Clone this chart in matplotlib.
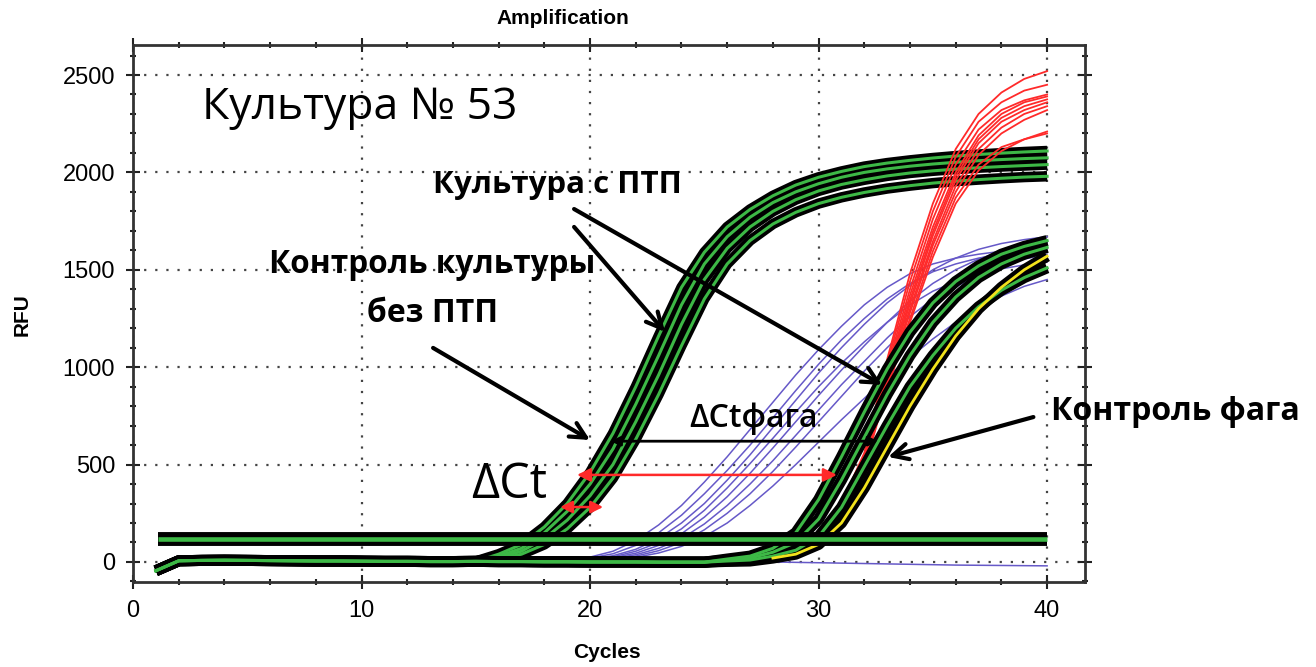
import matplotlib
matplotlib.use("Agg")
import matplotlib.pyplot as plt
from matplotlib.ticker import MultipleLocator

plt.rcParams['font.family'] = ['Liberation Sans', 'DejaVu Sans']
cyr = ['Open Sans', 'DejaVu Sans']

# 데이터 (RFU 값, 1~40 사이클)
cycles = list(range(1, 41))
baseline = [-45, 6, 8, 9, 8, 7, 6, 5, 5, 4, 3, 3, 2, 2, 3, 2, 2, 1, 1, 0,
            0, 0, -1, -1, -1, -2, -2, -2, -3, -3, -3, -3, -4, -4, -4, -4, -4, -5, -5, -5]

# 왼쪽 번들 (ПТП 배양) : 16 사이클부터
left_rise = [
    [40, 90, 180, 300, 460, 660, 900, 1160, 1410, 1590, 1720, 1810, 1880, 1935, 1975, 2005, 2030, 2048, 2062, 2074, 2084, 2092, 2099, 2105, 2110],
    [30, 70, 150, 260, 400, 580, 810, 1060, 1320, 1530, 1670, 1770, 1845, 1900, 1942, 1975, 2000, 2018, 2032, 2043, 2052, 2060, 2066, 2071, 2075],
    [22, 55, 120, 215, 340, 500, 720, 960, 1220, 1450, 1610, 1720, 1800, 1860, 1905, 1938, 1962, 1982, 1997, 2008, 2017, 2024, 2030, 2035, 2040],
    [15, 40, 90, 170, 280, 430, 630, 860, 1110, 1350, 1530, 1650, 1735, 1795, 1840, 1872, 1897, 1917, 1932, 1945, 1955, 1963, 1970, 1976, 1980],
]
# 오른쪽 번들 (фаг 대조) : 26 사이클부터
right_rise = [
    [15, 30, 70, 150, 320, 540, 770, 990, 1180, 1330, 1440, 1520, 1580, 1620, 1650],
    [10, 20, 50, 100, 220, 420, 640, 860, 1060, 1230, 1360, 1460, 1530, 1580, 1615],
    [5, 10, 30, 60, 130, 280, 490, 700, 900, 1060, 1200, 1310, 1395, 1460, 1510],
]
yellow_rise = [3, 5, 20, 40, 90, 200, 380, 590, 800, 990, 1160, 1300, 1410, 1500, 1570]

# 보라색 곡선 : 19 사이클부터
purple_rise = [
    [10, 25, 55, 110, 190, 290, 410, 540, 680, 820, 960, 1090, 1210, 1320, 1410, 1480, 1530, 1560, 1580, 1595, 1605, 1612],
    [8, 20, 42, 85, 150, 240, 350, 470, 600, 740, 880, 1015, 1140, 1250, 1350, 1430, 1490, 1530, 1560, 1580, 1600, 1615],
    [6, 15, 32, 65, 120, 200, 300, 420, 550, 690, 830, 970, 1100, 1220, 1330, 1420, 1500, 1560, 1605, 1635, 1655, 1670],
    [5, 12, 26, 55, 100, 170, 265, 380, 505, 635, 770, 900, 1020, 1130, 1230, 1320, 1390, 1440, 1480, 1505, 1525, 1540],
    [4, 10, 22, 45, 85, 145, 230, 335, 455, 585, 720, 855, 985, 1110, 1230, 1340, 1430, 1500, 1555, 1595, 1620, 1640],
    [3, 8, 18, 37, 70, 120, 195, 290, 400, 520, 650, 780, 910, 1030, 1150, 1260, 1350, 1420, 1480, 1525, 1555, 1580],
    [3, 6, 14, 30, 58, 100, 165, 250, 350, 465, 590, 720, 850, 980, 1100, 1215, 1320, 1410, 1480, 1540, 1585, 1620],
    [2, 5, 11, 24, 46, 80, 130, 200, 290, 390, 500, 615, 730, 840, 950, 1050, 1145, 1230, 1305, 1365, 1415, 1450],
]
neg_rise = [0, -2, -4, -6, -8, -10, -12, -14, -16, -17, -18, -19, -20]  # 28 사이클부터

# 빨간 곡선 : 28 사이클부터
red_rise = [
    [5, 40, 130, 300, 560, 1040, 1480, 1840, 2120, 2300, 2410, 2480, 2520],
    [5, 38, 125, 290, 550, 1020, 1440, 1800, 2080, 2260, 2360, 2420, 2450],
    [5, 36, 120, 280, 540, 1000, 1400, 1760, 2040, 2220, 2320, 2370, 2400],
    [4, 35, 115, 270, 530, 980, 1370, 1720, 2000, 2190, 2300, 2360, 2390],
    [4, 34, 112, 262, 520, 965, 1345, 1695, 1980, 2170, 2280, 2340, 2375],
    [4, 33, 108, 255, 510, 950, 1325, 1675, 1960, 2150, 2260, 2320, 2360],
    [4, 32, 105, 248, 500, 935, 1300, 1645, 1930, 2120, 2230, 2300, 2340],
    [3, 31, 102, 240, 495, 920, 1280, 1625, 1900, 2090, 2200, 2270, 2320],
    [3, 30, 100, 232, 488, 905, 1250, 1595, 1870, 2040, 2130, 2170, 2200],
    [3, 30, 100, 225, 480, 890, 1230, 1565, 1840, 2010, 2110, 2170, 2210],
]
threshold = 120


def full(rise):
    return baseline[:40 - len(rise)] + rise


GREEN = '#3db846'
PURPLE = '#6659c8'
RED = '#ff2a2a'

fig = plt.figure(figsize=(13.16, 6.67), dpi=100)
ax = fig.add_axes([0.1011, 0.1274, 0.7234, 0.8051])

# 보라색
for r in purple_rise:
    ax.plot(cycles, full(r), color=PURPLE, lw=1.1, zorder=2)
ax.plot(cycles[27:], neg_rise, color=PURPLE, lw=1.1, zorder=2)

# 왼쪽 번들
for r in left_rise:
    ax.plot(cycles, full(r), color='black', lw=7.5, zorder=3, solid_capstyle='butt')
for r in left_rise:
    ax.plot(cycles, full(r), color=GREEN, lw=2.2, zorder=3.1)

# 빨간색
for r in red_rise:
    ax.plot(cycles, full(r), color=RED, lw=1.3, zorder=3.5)

# 오른쪽 번들
for r in right_rise + [yellow_rise]:
    ax.plot(cycles, full(r), color='black', lw=8, zorder=4, solid_capstyle='butt')
for r in right_rise:
    ax.plot(cycles, full(r), color=GREEN, lw=2.2, zorder=4.1)
ax.plot(cycles[27:], full(yellow_rise)[27:], color='#f2e21c', lw=2.0, zorder=4.2)

# threshold
ax.plot([1.1, 40], [threshold, threshold], color='black', lw=10, zorder=5, solid_capstyle='butt')
ax.plot([1.1, 40], [threshold, threshold], color=GREEN, lw=3.3, zorder=5.1, solid_capstyle='butt')

# 축 설정
ax.set_xlim(0, 41.66)
ax.set_ylim(-103, 2654)
ax.xaxis.set_major_locator(MultipleLocator(10))
ax.xaxis.set_minor_locator(MultipleLocator(2))
ax.yaxis.set_major_locator(MultipleLocator(500))
ax.yaxis.set_minor_locator(MultipleLocator(100))
ax.tick_params(which='both', direction='inout', top=True, right=True, width=1.5, labelsize=17, color='#222')
ax.tick_params(which='major', length=10, pad=8)
ax.tick_params(which='minor', length=5)
for s in ax.spines.values():
    s.set_linewidth(2)
    s.set_color('#333')
ax.grid(which='major', linestyle=(0, (1, 4)), color='#444', lw=1.6)
ax.set_axisbelow(True)

fig.text(0.428, 0.973, 'Amplification', fontsize=15, weight='bold', ha='center', va='center')
fig.text(0.461, 0.021, 'Cycles', fontsize=15, weight='bold', ha='center', va='center')
fig.text(0.0167, 0.528, 'RFU', fontsize=15, weight='bold', ha='center', va='center', rotation=90)

# 주석
ax.text(9.9, 2330, 'Культура № 53', fontsize=32, family=cyr, ha='center', va='center', zorder=6)
ax.text(18.55, 1935, 'Культура с ПТП', fontsize=22.5, family=cyr, weight='bold', ha='center', va='center', zorder=6)
ax.text(13.1, 1525, 'Контроль культуры', fontsize=22.7, family=cyr, weight='bold', ha='center', va='center', zorder=6)
ax.text(13.1, 1278, 'без ПТП', fontsize=23, family=cyr, weight='bold', ha='center', va='center', zorder=6)
ax.text(45.6, 770, 'Контроль фага', fontsize=23, family=cyr, weight='bold', ha='center', va='center', zorder=6, clip_on=False)
ax.text(27.13, 739, 'ΔCtфага', fontsize=23, family=cyr, weight='semibold', ha='center', va='center', zorder=6)
ax.text(16.45, 395, 'ΔCt', fontsize=35, family=cyr, ha='center', va='center', zorder=6)

arrow = dict(arrowstyle='->', lw=3, color='black', mutation_scale=28, shrinkA=0, shrinkB=0)
ax.annotate('', xy=(32.78, 909), xytext=(19.3, 1812), arrowprops=arrow, zorder=6)
ax.annotate('', xy=(23.28, 1181), xytext=(19.3, 1720), arrowprops=arrow, zorder=6)
ax.annotate('', xy=(20.0, 626), xytext=(13.13, 1099), arrowprops=arrow, zorder=6)
ax.annotate('', xy=(33.04, 539), xytext=(39.4, 744), arrowprops=arrow, zorder=6)
ax.annotate('', xy=(20.9, 620), xytext=(32.6, 620),
            arrowprops=dict(arrowstyle='<|-|>', lw=2, color='black', mutation_scale=14, shrinkA=0, shrinkB=0), zorder=6)
ax.annotate('', xy=(19.43, 447), xytext=(30.8, 447),
            arrowprops=dict(arrowstyle='<|-|>', lw=1.8, color=RED, mutation_scale=20, shrinkA=0, shrinkB=0), zorder=6)
ax.annotate('', xy=(18.69, 282), xytext=(20.57, 282),
            arrowprops=dict(arrowstyle='<|-|>', lw=1.8, color=RED, mutation_scale=18, shrinkA=0, shrinkB=0), zorder=6)

plt.savefig('out.png', dpi=100)
plt.close()
